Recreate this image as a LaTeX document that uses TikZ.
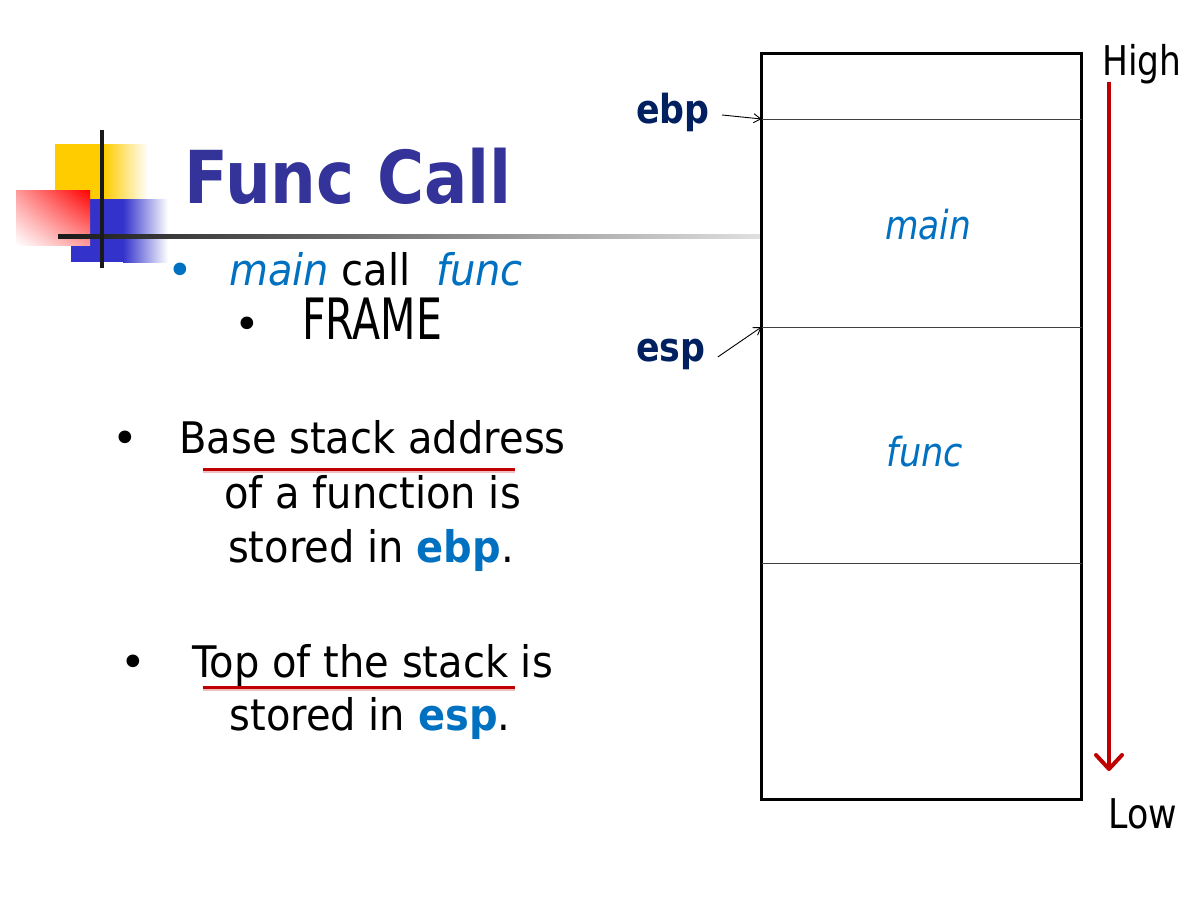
\documentclass[tikz,border=0pt]{standalone}
\usepackage{fontspec}
\setmainfont{DejaVu Sans}
\usetikzlibrary{arrows.meta,shadings}
\definecolor{titleblue}{HTML}{333399}
\definecolor{navy}{HTML}{002060}
\definecolor{textblue}{HTML}{0070C0}
\definecolor{darkred}{HTML}{C00000}
\definecolor{logoyellow}{HTML}{FFCC00}
\definecolor{logoblue}{HTML}{3333CC}
\newcommand\sx[2]{\scalebox{#1}[1]{#2}}
\begin{document}
\begin{tikzpicture}[x=1pt,y=-1pt,
  body/.style={anchor=base, inner sep=0pt, font=\fontsize{43.5}{52}\selectfont},
  bul/.style={anchor=base, inner sep=0pt, font=\fontsize{43.5}{52}\selectfont},
  lbl/.style={anchor=base, inner sep=0pt, font=\fontsize{40}{48}\selectfont\bfseries, text=navy},
  side/.style={anchor=base, inner sep=0pt, font=\fontsize{41}{48}\selectfont},
  seg/.style={anchor=base, inner sep=0pt, font=\fontsize{40}{48}\selectfont\itshape, text=textblue},
  ptr/.style={-{Straight Barb[length=7pt,width=9pt]}, line width=0.9pt},
  uline/.style={line width=3pt, draw=darkred},
  ushadow/.style={line width=2pt, draw=darkred!25},
  divider/.style={line width=1pt, draw=black!75},
  stackbox/.style={draw, line width=3pt, inner sep=0pt, outer sep=0pt, anchor=north west},
  redarrow/.style={draw=darkred, line width=4pt, line join=round,
    -{Straight Barb[length=14pt,width=26pt,line join=round,line cap=round]}},
]
\useasboundingbox (0,0) rectangle (1200,900);

% ---- logo ----
\fill[logoyellow] (55,144) rectangle (104,199);
\shade[left color=logoyellow, right color=white] (104,144) rectangle (148,199);
\fill[logoblue] (71,199) rectangle (123,262);
\shade[left color=logoblue, right color=white] (123,199) rectangle (168,262);
\shade[upper right=red, lower left=white, upper left=red!40, lower right=red!40] (16,190) rectangle (90,245);
\shade[left color=black!90, right color=black!12] (58,234) rectangle (760,238);
\fill[black!90] (100,130) rectangle (104,268);

% ---- title ----
\node[anchor=base, inner sep=0pt, font=\fontsize{73}{80}\selectfont\bfseries, text=titleblue] (title) at (348,203) {\sx{0.88}{Func Call}};

% ---- bullets ----
\node[bul, text=textblue] (b1) at (180,285) {•};
\node[body] (l1) at (376,285) {\sx{0.92}{{\itshape\color{textblue}main} call \ {\itshape\color{textblue}func}}};
\node[bul] (b2) at (247,339) {•};
\node[anchor=base, inner sep=0pt, font=\fontsize{57}{60}\selectfont] (l2) at (372,339) {\sx{0.72}{FRAME}};

\node[bul] (b3) at (125,453) {•};
\node[body] (l3) at (372.5,453) {\sx{0.92}{Base stack address}};
\node[body] (l4) at (372.5,508) {\sx{0.92}{of a function is}};
\node[body] (l5) at (371,562) {\sx{0.92}{stored in {\bfseries\color{textblue}ebp}.}};

\node[bul] (b4) at (133,677) {•};
\node[body] (l6) at (372.5,677) {\sx{0.92}{Top of the stack is}};
\node[body] (l7) at (370,730) {\sx{0.92}{stored in {\bfseries\color{textblue}esp}.}};

\coordinate (u1a) at (203,469); \coordinate (u1b) at (515,469);
\coordinate (u2a) at (203,687); \coordinate (u2b) at (515,687);
\draw[ushadow] ([yshift=-2.5pt]u1a) -- ([yshift=-2.5pt]u1b);
\draw[ushadow] ([yshift=-2.5pt]u2a) -- ([yshift=-2.5pt]u2b);
\draw[uline] (u1a) -- (u1b);
\draw[uline] (u2a) -- (u2b);

% ---- stack ----
\node[stackbox, minimum width=320pt, minimum height=746pt] (stack) at (761.5,53.5) {};
\coordinate (ebpTop) at (761.5,119);
\coordinate (espTop) at (761.5,327);
\coordinate (segEnd) at (761.5,563.5);
\draw[divider] (ebpTop) -- (ebpTop -| stack.east);
\draw[divider] (espTop) -- (espTop -| stack.east);
\draw[divider] (segEnd) -- (segEnd -| stack.east);

\node[seg] (mainseg) at (928,239) {\sx{0.86}{main}};
\node[seg] (funcseg) at (925,466) {\sx{0.88}{func}};

\node[lbl] (ebp) at (673,123) {\sx{0.87}{ebp}};
\node[lbl] (esp) at (671,361) {\sx{0.87}{esp}};
\draw[ptr] ([xshift=12pt,yshift=-3pt]ebp.east) -- (ebpTop);
\draw[ptr] ([xshift=12pt,yshift=-3pt]esp.east) -- (espTop);

% ---- high / low ----
\node[side] (high) at (1142,75) {\sx{0.84}{High}};
\node[side] (low) at (1142.5,828) {\sx{0.85}{Low}};
\coordinate (arrTop) at (1109,82);
\coordinate (arrBot) at (1109,771);
\draw[redarrow] (arrTop) -- (arrBot);
\end{tikzpicture}
\end{document}
